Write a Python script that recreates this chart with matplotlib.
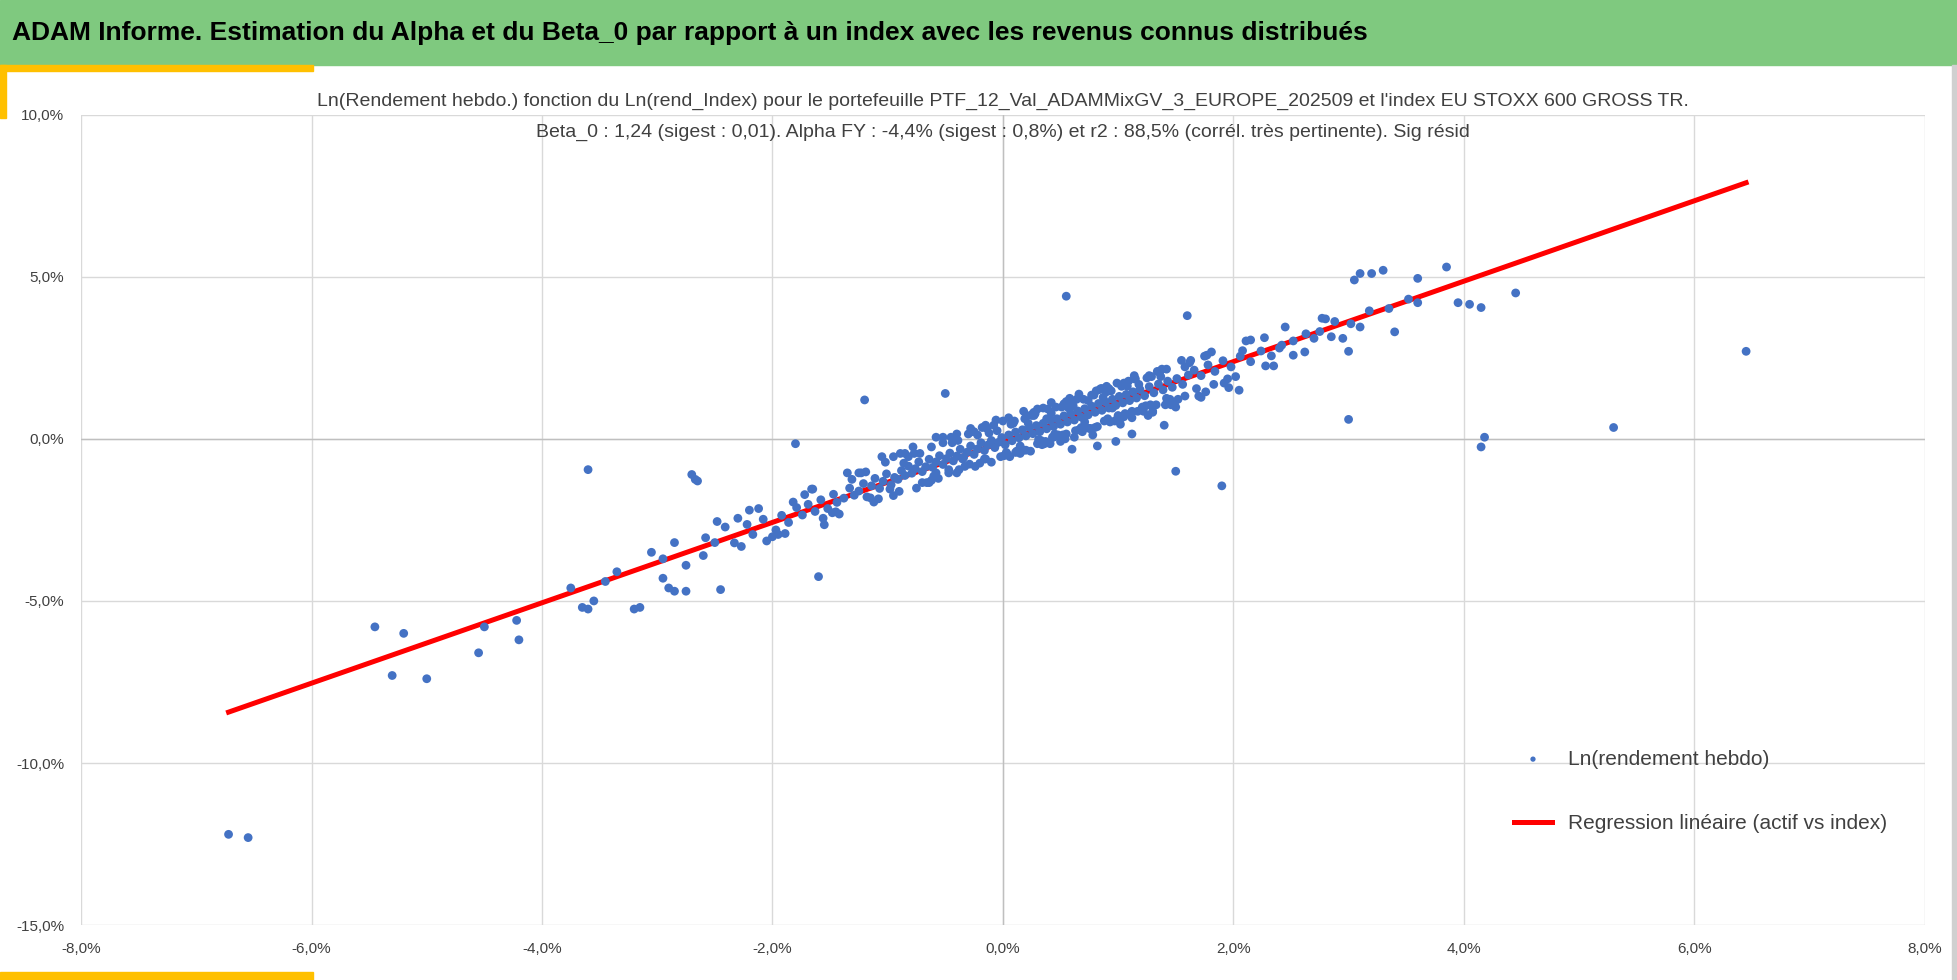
import matplotlib
matplotlib.use("Agg")
import matplotlib.pyplot as plt
from matplotlib.ticker import FuncFormatter
from matplotlib.patches import Rectangle

plt.rcParams['font.family'] = ['Liberation Sans', 'DejaVu Sans']

banner_title = "ADAM Informe. Estimation du Alpha et du Beta_0 par rapport à un index avec les revenus connus distribués"
chart_title = ("Ln(Rendement hebdo.) fonction du Ln(rend_Index) pour le portefeuille PTF_12_Val_ADAMMixGV_3_EUROPE_202509 et l'index EU STOXX 600 GROSS TR.\n"
               "Beta_0 : 1,24 (sigest : 0,01). Alpha FY : -4,4% (sigest : 0,8%) et r2 : 88,5% (corrél. très pertinente). Sig résid")
label_pts = "Ln(rendement hebdo)"
label_reg = "Regression linéaire (actif vs index)"

# points (percent)
x_out = [-6.72,-6.55,-5.45,-5.3,-5.2,-5.0,-4.55,-4.5,-4.2,-4.22,-3.6,-3.55,-3.6,-3.65,-3.75,-3.45,-3.35,-3.2,-3.15,-3.05,
         -2.95,-2.9,-2.85,-2.75,-2.7,-2.67,-2.65,-2.75,-2.6,-2.5,-2.45,-2.85,-2.95,-1.8,-1.6,-1.2,-0.5,0.55,1.5,1.9,
         3.0,4.15,4.18,5.3,6.45,4.45,3.85,3.3,3.1,3.2,3.05,3.6,3.6,3.95,4.05,4.15,2.05,2.4,2.7,3.0,3.4,2.95,2.8,1.6]
y_out = [-12.2,-12.3,-5.8,-7.3,-6.0,-7.4,-6.6,-5.8,-6.2,-5.6,-0.95,-5.0,-5.25,-5.2,-4.6,-4.4,-4.1,-5.25,-5.2,-3.5,
         -4.3,-4.6,-4.7,-4.7,-1.1,-1.25,-1.3,-3.9,-3.6,-3.2,-4.65,-3.2,-3.7,-0.15,-4.25,1.2,1.4,4.4,-1.0,-1.45,
         0.6,-0.25,0.05,0.35,2.7,4.5,5.3,5.2,5.1,5.1,4.9,4.2,4.95,4.2,4.15,4.05,1.5,2.8,3.1,2.7,3.3,3.1,3.7,3.8]
x_cloud = [-2.58,-2.41,-2.33,-2.22,-2.17,-2.08,-1.97,-1.92,-1.86,-1.79,
           -1.74,-1.69,-1.63,-1.58,-1.52,-1.47,-1.44,-1.38,-1.33,-1.29,
           -1.25,-1.21,-1.18,-1.14,-1.11,-1.07,-1.04,-1.01,-0.97,-0.94,
           -0.91,-0.88,-0.85,-0.82,-0.79,-0.76,-0.73,-0.70,-0.67,-0.64,
           -0.61,-0.58,-0.55,-0.52,-0.49,-0.46,-0.43,-0.40,-0.37,-0.34,
           -0.31,-0.28,-0.25,-0.22,-0.19,-0.16,-0.13,-0.10,-0.07,-0.04,
           -0.01,0.02,0.05,0.08,0.11,0.14,0.17,0.20,0.23,0.26,
           0.29,0.32,0.35,0.38,0.41,0.44,0.47,0.50,0.53,0.56,
           0.59,0.62,0.65,0.68,0.71,0.74,0.77,0.80,0.83,0.86,
           0.89,0.92,0.95,0.98,1.01,1.04,1.07,1.10,1.13,1.16,
           1.19,1.23,1.27,1.31,1.35,1.39,1.43,1.47,1.51,1.56,
           1.61,1.66,1.72,1.78,1.84,1.91,1.98,2.06,2.15,2.24,
           2.33,2.42,2.52,2.63,2.75,2.88,3.02,3.18,3.35,3.52,
           -1.95,-1.72,-1.48,-1.23,-0.98,-0.72,-0.47,-0.22,0.03,0.27,
           0.52,0.77,1.02,1.27,1.52,1.77,2.02,2.27,2.52,2.77,
           -0.35,-0.12,0.15,0.42,0.68,0.94,1.21,0.33,0.61,0.88,
           -0.82,-0.58,-0.05,0.22,0.48,0.74,1.0,1.25,1.42,1.62,
           -2.3,-2.05,-1.82,-1.56,-1.31,-1.08,-0.86,-0.62,-0.39,-0.16,
           0.07,0.31,0.57,0.82,1.08,1.33,1.58,1.83,2.08,2.35,
           0.12,0.38,0.63,0.87,1.12,1.37,0.45,0.71,0.95,1.18,
           -2.48,-2.27,-2.12,-1.89,-1.66,-1.42,-1.19,-0.95,-0.77,-0.56,
           -0.44,-0.29,-0.14,0.01,0.09,0.18,0.28,0.36,0.46,0.55,
           0.64,0.72,0.81,0.91,0.99,1.06,1.15,1.24,1.34,1.45,
           1.55,1.68,1.81,1.95,2.11,2.28,2.45,2.62,2.85,3.1,
           -1.35,-1.12,-0.89,-0.66,-0.41,-0.24,-0.08,0.13,0.27,0.43,
           0.58,0.69,0.84,0.97,1.09,1.22,1.36,1.49,1.63,1.76,
           -0.52,-0.33,-0.18,0.04,0.19,0.34,0.51,0.66,0.79,0.93,
           1.03,1.17,1.29,1.41,0.25,0.4,0.6,0.76,0.9,1.05,
           -1.55,-1.02,-0.75,-0.27,-0.02,0.1,0.24,0.39,0.54,0.7,
           -0.62,-0.47,-0.3,-0.15,0.0,0.16,0.3,0.44,0.58,0.72,
           0.86,1.0,1.14,1.28,1.42,0.06,0.21,0.37,0.53,0.68,
           -0.95,-0.7,-0.45,-0.2,0.05,0.3,0.55,0.8,1.05,1.3,
           -0.15,0.11,0.26,0.41,0.56,0.75,0.92,1.11,-0.38,-0.58,
           -1.15,-0.85,-0.6,-0.4,-0.25,0.15,0.35,0.62,0.85,1.12,
           1.38,1.58,1.75,1.92,2.15,-1.45,-1.25,-1.65,-2.0,-2.2,
           -1.05,-0.78,-0.52,-0.28,-0.06,0.18,0.42,0.66,0.9,1.14,
           1.3,1.46,1.7,-0.9,-0.64,-0.4,-0.1,0.2,0.5,0.78,
           1.02,1.26,1.5,1.72,1.96,0.98,1.12,0.82,1.4,0.6]
y_cloud = [-3.05,-2.72,-3.21,-2.64,-2.95,-2.48,-2.81,-2.36,-2.58,-2.12,
           -2.35,-2.02,-2.24,-1.88,-2.15,-1.71,-1.96,-1.83,-1.52,-1.74,
           -1.61,-1.38,-1.79,-1.45,-1.22,-1.53,-1.31,-1.08,-1.42,-1.19,
           -1.25,-0.98,-1.13,-0.84,-1.06,-0.92,-0.71,-1.01,-0.86,-0.63,
           -0.88,-0.71,-0.52,-0.79,-0.61,-0.44,-0.68,-0.53,-0.32,-0.57,
           -0.41,-0.22,-0.48,-0.31,-0.12,-0.36,-0.19,-0.05,-0.27,-0.11,
           0.04,-0.18,0.12,-0.06,0.21,0.03,0.28,0.09,0.35,0.16,
           0.41,0.22,0.48,0.31,0.57,0.38,0.62,0.45,0.71,0.52,
           0.78,0.58,0.86,0.67,0.93,0.74,1.01,0.82,1.09,0.88,
           1.14,0.95,1.22,1.03,1.31,1.11,1.37,1.18,1.45,1.26,
           1.52,1.33,1.61,1.42,1.69,1.51,1.78,1.59,1.86,1.68,
           1.97,2.12,1.95,2.28,2.08,2.41,2.22,2.55,2.38,2.71,
           2.56,2.89,3.02,3.24,3.31,3.62,3.55,3.95,4.02,4.31,
           -2.95,-1.72,-2.28,-1.05,-1.55,-0.45,-0.95,0.12,-0.42,0.72,
           0.12,1.35,0.62,1.95,1.22,2.58,1.92,3.12,2.58,3.72,
           -0.62,0.18,-0.22,0.79,0.35,1.48,0.98,-0.05,1.02,0.55,
           -0.55,-1.05,0.25,0.48,0.12,1.18,0.72,1.88,1.25,2.35,
           -2.45,-3.15,-1.95,-2.45,-1.25,-1.85,-0.75,-1.28,-0.05,-0.62,
           0.45,-0.02,0.95,0.38,1.62,1.05,2.22,1.68,2.72,2.25,
           -0.38,0.62,0.25,1.28,0.85,1.92,0.15,0.52,0.95,1.68,
           -2.55,-3.32,-2.15,-2.92,-1.55,-2.32,-1.02,-1.75,-0.45,-1.22,
           -0.12,-0.78,0.32,-0.52,0.48,-0.35,0.78,-0.15,0.98,0.15,
           1.22,0.35,1.48,0.62,1.72,0.78,1.85,1.02,2.08,1.22,
           2.42,1.55,2.68,1.85,3.02,2.25,3.45,2.68,3.15,3.45,
           -1.05,-1.95,-0.45,-1.35,-0.02,-0.85,0.42,-0.38,0.82,0.05,
           1.18,0.22,1.52,0.55,1.78,0.85,2.05,1.12,2.42,1.45,
           -0.12,-0.85,0.35,-0.48,0.62,-0.18,0.98,0.28,1.35,0.52,
           1.62,0.85,1.92,1.05,0.72,-0.12,1.15,0.32,1.45,0.68,
           -2.65,-0.72,-1.52,0.22,-0.55,0.55,-0.38,0.92,0.0,1.22,
           -0.25,-1.05,0.15,-0.62,0.55,-0.35,0.92,0.05,1.25,0.35,
           1.55,0.68,1.95,1.05,2.15,-0.55,0.72,-0.08,1.08,0.25,
           -0.55,-1.35,0.05,-0.75,0.65,-0.15,1.15,0.35,1.72,0.85,
           0.42,-0.42,0.78,-0.15,1.12,0.32,1.55,0.78,-0.95,0.05,
           -1.82,-0.45,-1.15,0.15,0.22,-0.45,0.95,0.05,1.55,0.65,
           2.15,1.32,2.55,1.72,3.05,-2.25,-1.05,-1.55,-3.02,-2.2,
           -0.55,-0.25,0.05,0.32,0.58,0.85,1.12,1.38,1.62,1.85,
           0.82,1.05,1.32,-1.62,-1.35,-1.05,-0.72,-0.35,-0.08,0.12,
           0.45,0.72,0.98,1.28,1.58,-0.08,0.15,-0.22,0.42,-0.32]
reg_x = [-6.72, 6.45]
reg_y = [-8.43, 7.90]

fig = plt.figure(figsize=(19.58, 9.8), dpi=100)
# banner
fig.patches.append(Rectangle((0, 0.934), 1, 0.066, transform=fig.transFigure, color='#7FC97F', zorder=0))
fig.patches.append(Rectangle((0, 0.928), 0.16, 0.006, transform=fig.transFigure, color='#FFC000', zorder=0))
fig.patches.append(Rectangle((0, 0.88), 0.003, 0.054, transform=fig.transFigure, color='#FFC000', zorder=0))
fig.patches.append(Rectangle((0, 0.0), 0.16, 0.008, transform=fig.transFigure, color='#FFC000', zorder=0))
fig.patches.append(Rectangle((0.997, 0.0), 0.003, 0.934, transform=fig.transFigure, color='#D0D0D0', zorder=0))
fig.text(0.006, 0.966, banner_title, fontsize=19, fontweight='bold', va='center', ha='left')

ax = fig.add_axes([0.0414, 0.056, 0.9416, 0.827])
ax.plot(reg_x, reg_y, color='#FF0000', lw=3.6, zorder=2, label=label_reg)
ax.scatter(x_out + x_cloud, y_out + y_cloud, s=40, color='#4472C4', zorder=3, label=label_pts, edgecolors='none')
ax.set_xlim(-8, 8)
ax.set_ylim(-15, 10)
ax.set_xticks(range(-8, 9, 2))
ax.set_yticks([-15, -10, -5, 0, 5, 10])
fmt = FuncFormatter(lambda v, p: f"{v:.1f}%".replace('.', ','))
ax.xaxis.set_major_formatter(fmt)
ax.yaxis.set_major_formatter(fmt)
ax.grid(True, color='#D9D9D9', lw=1)
ax.set_axisbelow(True)
for s in ax.spines.values():
    s.set_visible(False)
ax.axhline(0, color='#BFBFBF', lw=1, zorder=1)
ax.axvline(0, color='#BFBFBF', lw=1, zorder=1)
ax.tick_params(length=0, labelsize=11, colors='#404040', pad=12)
ax.set_title(chart_title, fontsize=14, color='#404040', linespacing=2.1, pad=-16, y=1.0)
h, l = ax.get_legend_handles_labels()
ax.legend(h[::-1], l[::-1], loc='lower right', bbox_to_anchor=(0.99, 0.09), frameon=False,
          fontsize=15, labelcolor='#404040', labelspacing=2.2, handlelength=1.8, markerscale=0.6)
fig.savefig("out.png", dpi=100)
